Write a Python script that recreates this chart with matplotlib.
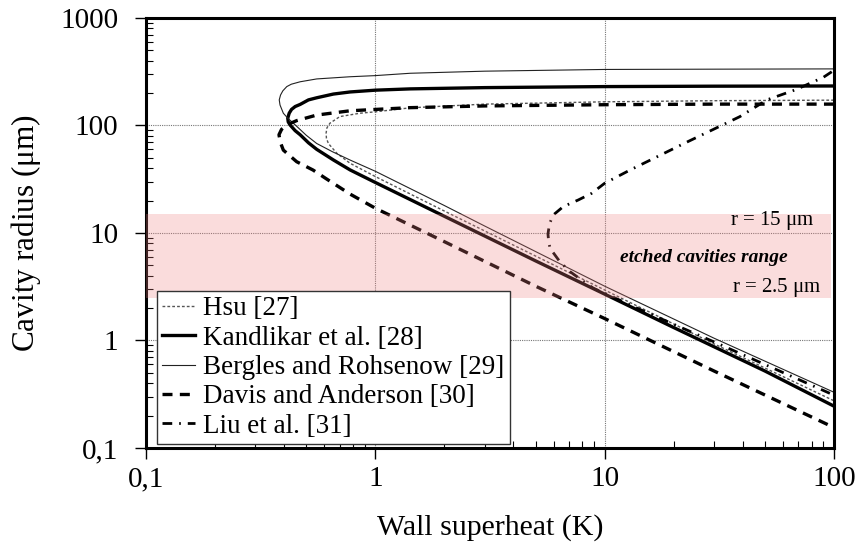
import numpy as np
import matplotlib
matplotlib.use("Agg")
import matplotlib.pyplot as plt
from matplotlib.ticker import FixedLocator, FixedFormatter, LogLocator, NullFormatter

plt.rcParams['font.family'] = ['Liberation Serif', 'DejaVu Serif']
plt.rcParams['mathtext.fontset'] = 'stix'

# wall superheat (K) vs cavity radius (um):
# upper branch from the right, round the nose, then lower branch to the right
hsu_dt = [100, 30, 10, 3, 1.42, 1, 0.857, 0.70, 0.634, 0.615, 0.61,
          0.612, 0.624, 0.68, 0.776, 1, 2, 5, 10, 30, 100]
hsu_r = [172, 170, 166, 158, 146, 134, 130, 121, 105, 95, 85,
         76, 68, 55, 44.5, 33.5, 16, 6.1, 2.95, 0.93, 0.275]

kand_dt = [100, 30, 10, 3, 1.42, 1, 0.776, 0.656, 0.555, 0.511, 0.47, 0.447, 0.431, 0.421, 0.415,
           0.417, 0.425, 0.447, 0.47, 0.511, 0.555, 0.656, 0.776, 1, 2, 5, 10, 20, 50, 100]
kand_r = [233, 232, 230, 225, 219, 213, 205, 196, 181, 173, 157, 150, 141, 130, 117,
          108, 101, 89.5, 82, 69, 60, 47.8, 38.6, 29.5, 14.3, 5.5, 2.7, 1.32, 0.52, 0.245]

berg_dt = [100, 30, 10, 3, 1.42, 1, 0.776, 0.555, 0.47, 0.43, 0.411, 0.395, 0.386, 0.381,
           0.384, 0.397, 0.415, 0.45, 0.5, 0.555, 0.65, 0.776, 1, 2, 3, 10, 30, 100]
berg_r = [336, 334, 332, 320, 306, 291, 284, 271, 255, 242, 230, 210, 192, 173,
          155, 130, 117, 100, 81, 68, 57, 47.7, 37.5, 18, 11.6, 3.2, 1.05, 0.33]

davis_dt = [100, 30, 10, 3, 1.42, 1, 0.776, 0.555, 0.454, 0.41, 0.39, 0.38,
            0.385, 0.397, 0.454, 0.535, 0.61, 0.776, 1, 2, 5, 10, 30, 100]
davis_r = [158, 158, 156, 152, 146.5, 141, 137, 125, 111, 101, 92, 82,
           70, 59, 46, 38.5, 32, 23, 17, 8.3, 3.2, 1.6, 0.52, 0.155]

liu_dt = [97.8, 90, 78.7, 67.6, 51, 38.9, 29.8, 22.5, 17.5, 12.9, 10, 8.78, 7.68, 6.6,
          5.97, 5.75, 5.66, 5.7, 5.78, 6.38, 7.06, 7.94, 8.93, 10, 15, 30, 100]
liu_r = [316, 281, 247, 214, 173, 121, 92, 69, 53, 38.5, 29, 23.4, 20.3, 17.6,
         14.7, 12.2, 9.8, 8.3, 7.2, 5.4, 4.37, 3.65, 3.06, 2.75, 1.85, 0.97, 0.31]

r_min, r_max = 2.5, 15

x_ticks = [0.1, 1, 10, 100]
x_labels = ['0,1', '1', '10', '100']
y_ticks = [0.1, 1, 10, 100, 1000]
y_labels = ['0,1', '1', '10', '100', '1000']

fig = plt.figure(figsize=(8.61, 5.48), dpi=100)
ax = fig.add_axes([0.1696, 0.1825, 0.799, 0.7847])

ax.plot(hsu_dt, hsu_r, color='#555555', lw=1.0, ls=(0, (2, 1.5)), label='Hsu [27]', zorder=2)
ax.plot(kand_dt, kand_r, color='black', lw=2.4, ls='-', label='Kandlikar et al. [28]', zorder=2)
ax.plot(berg_dt, berg_r, color='#222222', lw=0.8, ls='-', label='Bergles and Rohsenow [29]', zorder=2)
ax.plot(davis_dt, davis_r, color='black', lw=2.4, ls=(0, (3, 2.2)), label='Davis and Anderson [30]', zorder=2)
ax.plot(liu_dt, liu_r, color='black', lw=2.0, ls=(0, (3.5, 2.5, 0.6, 2.5)), label='Liu et al. [31]', zorder=2)

# etched cavity band, laid over the curves
ax.axhspan(r_min, r_max, xmin=0, xmax=0.996, color='#f08080', alpha=0.27, lw=0, zorder=3)

ax.text(0.972, 0.528, r'r = 15 $\mathregular{\mu}$m', transform=ax.transAxes,
        ha='right', va='center', fontsize=15, zorder=4)
ax.text(0.811, 0.444, 'etched cavities range', transform=ax.transAxes,
        ha='center', va='center', fontsize=14, fontweight='bold', fontstyle='italic', zorder=4)
ax.text(0.982, 0.374, r'r = 2.5 $\mathregular{\mu}$m', transform=ax.transAxes,
        ha='right', va='center', fontsize=15, zorder=4)

ax.set_xscale('log')
ax.set_yscale('log')
ax.set_xlim(0.1, 100)
ax.set_ylim(0.1, 1000)

ax.xaxis.set_major_locator(FixedLocator(x_ticks))
ax.xaxis.set_major_formatter(FixedFormatter(x_labels))
ax.yaxis.set_major_locator(FixedLocator(y_ticks))
ax.yaxis.set_major_formatter(FixedFormatter(y_labels))
ax.xaxis.set_minor_locator(LogLocator(base=10, subs=np.arange(2, 10)))
ax.yaxis.set_minor_locator(LogLocator(base=10, subs=np.arange(2, 10)))
ax.xaxis.set_minor_formatter(NullFormatter())
ax.yaxis.set_minor_formatter(NullFormatter())

ax.tick_params(which='major', direction='out', length=8, width=1, labelsize=21)
ax.tick_params(axis='y', which='major', pad=12)
ax.tick_params(axis='x', which='major', pad=5)
ax.tick_params(which='minor', direction='in', length=5, width=0.8)

ax.grid(which='major', color='#777777', lw=0.8, ls=(0, (1, 1)), zorder=1)
ax.set_axisbelow(True)

for side in ['top', 'right', 'bottom', 'left']:
    ax.spines[side].set_linewidth(2.2)
    ax.spines[side].set_color('black')

ax.set_xlabel('Wall superheat (K)', fontsize=21.5, labelpad=16)
ax.set_ylabel(r'Cavity radius ($\mathregular{\mu}$m)', fontsize=22.5, labelpad=12)

leg = ax.legend(loc='lower left', bbox_to_anchor=(0.016, 0.009), borderaxespad=0,
                fontsize=19.5, handlelength=1.2, handletextpad=0.3, labelspacing=0.16,
                borderpad=0.2, fancybox=False, framealpha=1, edgecolor='#333333')
leg.get_frame().set_linewidth(1.0)
leg.set_zorder(5)

fig.savefig('out.png', dpi=100)
